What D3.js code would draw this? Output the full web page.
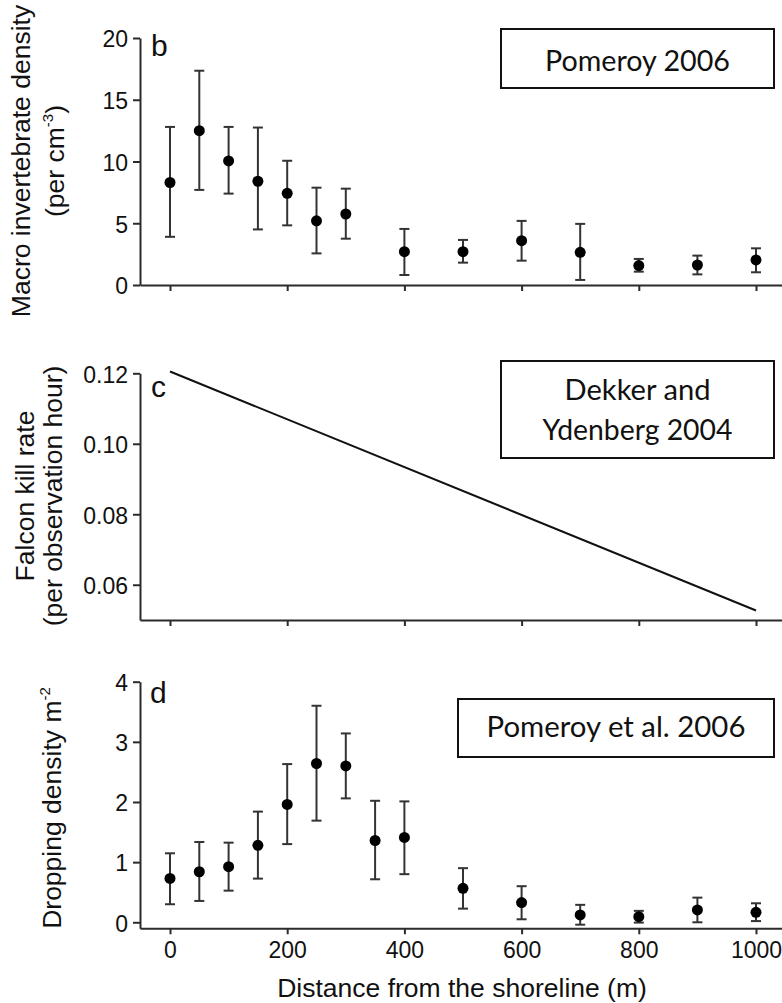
<!DOCTYPE html>
<html>
<head>
<meta charset="utf-8">
<script src="https://cdn.jsdelivr.net/npm/d3@7"></script>
<style>
  body { margin: 0; background: #fff; }
  svg { display: block; }
  .sans { font-family: Arial, "Liberation Sans", "DejaVu Sans"; }
  .note { font-family: Lato, "Open Sans", sans-serif; }
</style>
</head>
<body>
<svg id="chart" width="782" height="1003"></svg>
<script>
// Distance from the shoreline (m) and measured values per panel
const distB = [0, 50, 100, 150, 200, 250, 300, 400, 500, 600, 700, 800, 900, 1000];
const meanB = [8.3, 12.5, 10.05, 8.4, 7.42, 5.2, 5.75, 2.7, 2.7, 3.59, 2.65, 1.57, 1.62, 2.03];
const upperB = [12.8, 17.35, 12.8, 12.75, 10.06, 7.88, 7.8, 4.54, 3.65, 5.19, 4.95, 2.11, 2.38, 2.97];
const lowerB = [3.9, 7.7, 7.4, 4.5, 4.83, 2.56, 3.75, 0.81, 1.81, 1.97, 0.41, 1.08, 0.86, 1.03];

const distC = [0, 1000];
const killRateC = [0.1205, 0.0527];

const distD = [0, 50, 100, 150, 200, 250, 300, 350, 400, 500, 600, 700, 800, 900, 1000];
const meanD = [0.73, 0.84, 0.925, 1.28, 1.96, 2.64, 2.6, 1.36, 1.41, 0.565, 0.327, 0.122, 0.094, 0.205, 0.166];
const upperD = [1.147, 1.335, 1.324, 1.84, 2.63, 3.6, 3.14, 2.02, 2.01, 0.9, 0.6, 0.29, 0.19, 0.41, 0.316];
const lowerD = [0.3, 0.355, 0.526, 0.726, 1.3, 1.69, 2.06, 0.715, 0.8, 0.227, 0.05, -0.04, -0.005, 0.0, 0.02];

const xTicks = [0, 200, 400, 600, 800, 1000];
const yTicksB = [0, 5, 10, 15, 20];
const yTicksC = [0.06, 0.08, 0.10, 0.12];
const yTicksD = [0, 1, 2, 3, 4];

const panelLetters = ["b", "c", "d"];
const sourceNotes = [["Pomeroy 2006"], ["Dekker and", "Ydenberg 2004"], ["Pomeroy et al. 2006"]];
const xTitle = "Distance from the shoreline (m)";

const svg = d3.select("#chart");
const INK = "#111";
const AXIS = "#2b2b2b";

const axisLeftX = 140, axisRightX = 782;
const x = d3.scaleLinear().domain([0, 1000]).range([170, 756]);
const xFull = x.copy().domain([x.invert(axisLeftX), x.invert(axisRightX)]).range([axisLeftX, axisRightX]);

const panels = [
  { domain: [0, 20], range: [285, 38], ticks: yTicksB, fmt: d3.format("d") },
  { domain: [0.05, 0.12], range: [620, 373.3], ticks: yTicksC, fmt: d3.format(".2f") },
  { domain: [-0.1, 4], range: [928.3, 681.7], ticks: yTicksD, fmt: d3.format("d") }
];
const ys = panels.map(p => d3.scaleLinear().domain(p.domain).range(p.range));

function styleAxis(g) {
  g.attr("font-family", null).attr("font-size", null).attr("class", "sans");
  g.select(".domain").attr("stroke", AXIS).attr("stroke-width", 2);
  g.selectAll(".tick line").attr("stroke", AXIS).attr("stroke-width", 2);
  g.selectAll(".tick text").attr("fill", INK).style("font-size", "23px");
}

panels.forEach((p, i) => {
  const y = ys[i];
  const bottom = p.range[0];
  // x axis
  const xa = d3.axisBottom(xFull).tickValues(xTicks).tickFormat(d3.format("d"))
    .tickSize(6).tickSizeOuter(0).tickPadding(7);
  if (i < 2) xa.tickFormat("");
  svg.append("g").attr("transform", `translate(0,${bottom})`).call(xa).call(styleAxis);
  // y axis
  const ya = d3.axisLeft(y).tickValues(p.ticks).tickFormat(p.fmt).tickSize(7).tickSizeOuter(0).tickPadding(5);
  svg.append("g").attr("transform", `translate(${axisLeftX},0)`).call(ya).call(styleAxis)
    .selectAll(".tick text").attr("dy", "0.38em");
});

// Panel letters
const letterPos = [[151, 56], [151, 397], [150, 703]];
panelLetters.forEach((l, i) => {
  svg.append("text").attr("class", "sans").attr("x", letterPos[i][0]).attr("y", letterPos[i][1])
    .style("font-size", "30px").attr("fill", INK).text(l);
});

// Error bars with mean points
function errorPlot(dist, mean, upper, lower, y) {
  const rows = dist.map((d, i) => ({ d, m: mean[i], u: upper[i], l: lower[i] }));
  const g = svg.append("g");
  const cap = 5;
  const bars = g.selectAll("g.bar").data(rows).enter().append("g").attr("class", "bar")
    .attr("stroke", "#333").attr("stroke-width", 2);
  bars.append("line").attr("x1", r => x(r.d)).attr("x2", r => x(r.d))
    .attr("y1", r => y(r.u)).attr("y2", r => y(r.l));
  bars.append("line").attr("x1", r => x(r.d) - cap).attr("x2", r => x(r.d) + cap)
    .attr("y1", r => y(r.u)).attr("y2", r => y(r.u));
  bars.append("line").attr("x1", r => x(r.d) - cap).attr("x2", r => x(r.d) + cap)
    .attr("y1", r => y(r.l)).attr("y2", r => y(r.l));
  g.selectAll("circle").data(rows).enter().append("circle")
    .attr("cx", r => x(r.d)).attr("cy", r => y(r.m)).attr("r", 5.5).attr("fill", "#000");
}
errorPlot(distB, meanB, upperB, lowerB, ys[0]);
errorPlot(distD, meanD, upperD, lowerD, ys[2]);

// Kill-rate regression line
svg.append("path")
  .datum(distC.map((d, i) => [d, killRateC[i]]))
  .attr("fill", "none").attr("stroke", "#111").attr("stroke-width", 2)
  .attr("d", d3.line().x(d => x(d[0])).y(d => ys[1](d[1])));

// Rotated y-axis titles
function vTitle(bx, cy, parts) {
  const t = svg.append("text").attr("class", "sans")
    .attr("transform", `translate(${bx},${cy}) rotate(-90)`)
    .attr("text-anchor", "middle").style("font-size", "26.5px").attr("fill", INK);
  parts.forEach(p => {
    const ts = t.append("tspan").text(p.t);
    if (p.sup) ts.style("font-size", "15px").attr("dy", -11);
    if (p.back) ts.attr("dy", 11);
  });
}
vTitle(30, 161, [{ t: "Macro invertebrate density" }]);
vTitle(64, 161, [{ t: "(per cm" }, { t: "-3", sup: true }, { t: ")", back: true }]);
vTitle(34, 496, [{ t: "Falcon kill rate" }]);
vTitle(62, 496, [{ t: "(per observation hour)" }]);
vTitle(61, 808, [{ t: "Dropping density m" }, { t: "-2", sup: true }]);

// x-axis title
svg.append("text").attr("class", "sans").attr("x", 462).attr("y", 997).attr("text-anchor", "middle")
  .style("font-size", "26.5px").attr("fill", INK).text(xTitle);

// Source boxes
const boxes = [
  { x: 501, y: 29, w: 273, h: 59, base: [71], widths: [185] },
  { x: 501, y: 361, w: 273, h: 97, base: [400, 439.5], widths: [146, 190] },
  { x: 458, y: 699, w: 316, h: 58, base: [737], widths: [259] }
];
boxes.forEach((b, i) => {
  svg.append("rect").attr("x", b.x).attr("y", b.y).attr("width", b.w).attr("height", b.h)
    .attr("fill", "#fff").attr("stroke", "#111").attr("stroke-width", 2);
  sourceNotes[i].forEach((line, j) => {
    const t = svg.append("text").attr("class", "note").attr("x", b.x + b.w / 2).attr("y", b.base[j])
      .attr("text-anchor", "middle").style("font-size", "30px").attr("fill", INK).text(line);
    const w = t.node().getComputedTextLength();
    if (w > 0) t.style("font-size", (30 * b.widths[j] / w).toFixed(2) + "px");
  });
});
</script>
</body>
</html>
